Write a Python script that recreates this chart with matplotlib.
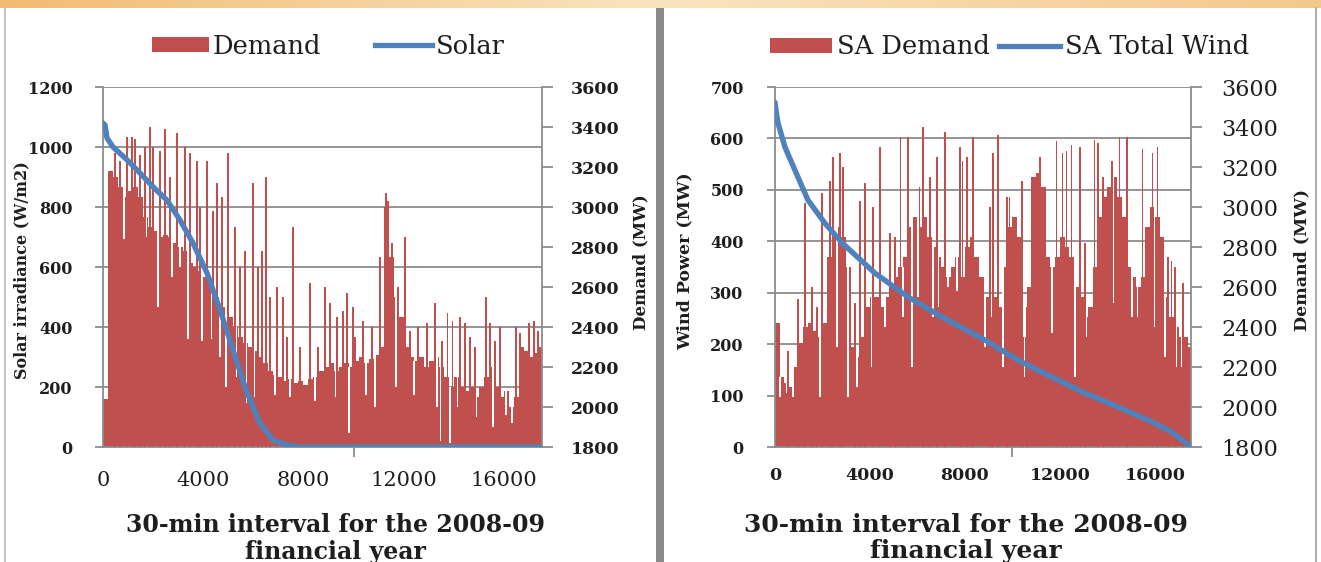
import numpy as np
import matplotlib
matplotlib.use('Agg')
import matplotlib.pyplot as plt
from matplotlib.patches import Rectangle, Patch
from matplotlib.lines import Line2D

# ---------------- data ----------------
x_ticks = [0, 4000, 8000, 12000, 16000]
n_intervals = 17520
body_step = 200

# ---- left panel: demand (MW) read as a solid body + thin peaks + thin dips
left_body = [
    2040, 3180, 3150, 3100, 3050, 3080, 3100, 3050, 2950, 2900,
    2880, 2850, 2860, 2850, 2820, 2800, 2780, 2720, 2700, 2680,
    2650, 2620, 2580, 2550, 2500, 2450, 2400, 2350, 2320, 2300,
    2280, 2250, 2220, 2180, 2160, 2150, 2130, 2140, 2120, 2130,
    2110, 2140, 2150, 2180, 2200, 2220, 2180, 2200, 2220, 2200,
    2230, 2250, 2220, 2240, 2260, 2300, 3000, 2750, 2550, 2450,
    2300, 2250, 2230, 2250, 2200, 2230, 2250, 2200, 2150, 2100,
    2150, 2100, 2080, 2100, 2050, 2100, 2150, 2200, 2100, 2050,
    2080, 2000, 2050, 2300, 2280, 2250, 2270, 2300,
]
left_peak_x = [480, 680, 960, 1160, 1280, 1480, 1675, 1875, 2000, 2275,
               2475, 2670, 2950, 3270, 3470, 3750, 3870, 4150, 4390, 4550,
               4750, 4990, 5270, 5470, 5670, 5985, 6190, 6340, 6500, 6660,
               6940, 7180, 7340, 7580, 7860, 8260, 8580, 8860, 9060, 9340,
               9580, 9740, 9975, 10050, 10370, 10730, 11050, 11290, 11370, 11530,
               11770, 12050, 12250, 12570, 12930, 13250, 13530, 13760, 13960, 14240,
               14440, 14640, 14840, 15280, 15440, 15640, 15840, 16480, 16640, 17000,
               17200, 17360]
left_peak_top = [3270, 3230, 3350, 3350, 3340, 3260, 3300, 3400, 3300, 3280,
                 3390, 3150, 3370, 3300, 3270, 3230, 3000, 3230, 2980, 3120,
                 3050, 3270, 2900, 2700, 2780, 3120, 2700, 2780, 3150, 2550,
                 2600, 2550, 2350, 2900, 2300, 2620, 2300, 2600, 2520, 2450,
                 2480, 2570, 2500, 2350, 2430, 2400, 2750, 3070, 3030, 2820,
                 2600, 2850, 2380, 2400, 2420, 2520, 2330, 2470, 2430, 2450,
                 2420, 2350, 2300, 2550, 2420, 2330, 2400, 2400, 2370, 2420,
                 2430, 2380]
left_dip_x = [680, 840, 1720, 2190, 2750, 3070, 3390, 3950, 4350, 4670,
              4910, 5310, 5710, 6030, 6340, 6860, 7460, 8460, 9300, 9820,
              10490, 10850, 11690, 12410, 13330, 13490, 13850, 14160, 14880, 15560,
              16080, 16320, 16640]
left_dip_bottom = [2780, 2840, 2850, 2500, 2650, 2700, 2340, 2330, 2340, 2250,
                   2100, 2150, 2020, 2050, 2030, 2060, 2050, 2030, 2050, 1870,
                   2060, 2000, 2100, 2060, 2000, 1830, 1820, 2000, 1950, 1900,
                   1960, 1920, 2000]

solar_x = [0, 80, 160, 400, 960, 1480, 2000, 2550, 3070, 3590, 4150, 4670,
           5190, 5750, 6260, 6780, 7340, 7860, 17520]
solar_y = [1080, 1073, 1030, 1000, 957, 913, 867, 823, 757, 680, 580, 457,
           323, 180, 80, 23, 7, 0, 0]

# ---- right panel
right_body = [
    2420, 2150, 2120, 2100, 2200, 2320, 2400, 2420, 2380, 2350,
    2420, 2750, 2850, 2900, 2850, 2700, 2300, 2250, 2350, 2500,
    2550, 2550, 2500, 2550, 2600, 2650, 2700, 2750, 2900, 2950,
    2900, 2950, 2850, 2800, 2750, 2700, 2650, 2700, 2750, 2650,
    2800, 2850, 2750, 2650, 2550, 2450, 2550, 2500, 2700, 2900,
    2950, 2850, 2350, 2600, 3150, 3170, 3100, 2750, 2700, 2750,
    2850, 2800, 2750, 2600, 2550, 2450, 2500, 2700, 2950, 3050,
    3100, 3150, 3050, 2950, 2700, 2650, 2600, 2650, 2900, 3000,
    2950, 2850, 2550, 2450, 2400, 2350, 2350, 2300,
]
right_peak_x = [550, 970, 1260, 1560, 1770, 1980, 2315, 2440, 2735, 2860,
                3370, 3580, 3790, 4130, 4420, 4840, 5050, 5300, 5600, 6100,
                6230, 6530, 6820, 7160, 7790, 7910, 8080, 8340, 9050, 9180,
                9390, 9770, 9890, 10400, 10610, 11160, 11870, 12120, 12290, 12500,
                12840, 13050, 13470, 13600, 13810, 14190, 14520, 14820, 15490, 15910,
                16120, 16550, 16710, 16840, 17180]
right_peak_top = [2280, 2540, 3020, 2600, 2500, 3070, 3130, 3250, 3270, 3200,
                  2520, 3030, 3120, 3000, 3300, 2870, 2850, 3350, 3350, 3100,
                  3400, 3150, 3250, 3375, 3300, 3230, 3250, 3350, 3000, 3270,
                  3360, 3050, 3050, 3130, 2500, 3250, 3330, 3270, 3280, 3310,
                  3300, 2820, 3335, 3320, 3150, 3230, 3350, 3350, 3290, 3270,
                  3300, 2750, 2730, 2700, 2620]
right_dip_x = [210, 505, 760, 1770, 1900, 2610, 3070, 3450, 4080, 4630,
               5390, 5770, 6020, 6650, 6860, 7280, 7660, 8840, 9600, 10520,
               11660, 12630, 13130, 13350, 14230, 15030, 15280, 15990, 16420, 16920,
               17130]
right_dip_bottom = [2050, 2070, 2050, 2070, 2050, 2300, 2050, 2100, 2200, 2400,
                    2450, 2200, 2550, 2450, 2500, 2600, 2580, 2300, 2200, 2150,
                    2370, 2150, 2350, 2500, 2520, 2450, 2450, 2400, 2250, 2200,
                    2200]

wind_x = [0, 40, 126, 420, 842, 1389, 2105, 2821, 4210, 5600, 7030, 8840,
          10230, 11660, 13050, 14440, 15870, 16710, 17520]
wind_y = [670, 655, 630, 583, 538, 480, 435, 397, 338, 292, 253, 208,
          169, 136, 105, 78, 49, 29, 0]

left_ticks_solar = [0, 200, 400, 600, 800, 1000, 1200]
left_ticks_wind = [0, 100, 200, 300, 400, 500, 600, 700]
demand_ticks = [1800, 2000, 2200, 2400, 2600, 2800, 3000, 3200, 3400, 3600]

# ---------------- style ----------------
W, H = 1321, 562
plt.rcParams['font.family'] = ['DejaVu Serif']
RED = '#C0504D'
BLUE = '#4F81BD'
GRID = '#8C8C8C'
TXT = '#1E1E1E'
PT = 72 / 100.0  # points per pixel

fig = plt.figure(figsize=(W / 100, H / 100), dpi=100)

# background decorations
bg = fig.add_axes([0, 0, 1, 1], zorder=-10)
bg.set_xlim(0, W)
bg.set_ylim(H, 0)
bg.axis('off')
grad = np.zeros((1, 300, 3))
c1 = np.array([240, 188, 115]) / 255
c2 = np.array([250, 228, 190]) / 255
c3 = np.array([244, 200, 140]) / 255
t = np.linspace(0, 1, 300)
for k in range(300):
    if t[k] < 0.5:
        grad[0, k] = c1 + (c2 - c1) * (t[k] / 0.5)
    else:
        grad[0, k] = c2 + (c3 - c2) * ((t[k] - 0.5) / 0.5)
bg.imshow(grad, extent=[0, W, 8, 0], aspect='auto')
bg.add_patch(Rectangle((656, 8), 8, H, color='#8A8A8A', lw=0))
bg.plot([5, 5], [8, H], color='#C4C4C4', lw=1.5)
bg.plot([1316, 1316], [8, H], color='#B0B0B0', lw=1.5)


def px_axes(x0, x1, y0, y1):
    return [x0 / W, 1 - y1 / H, (x1 - x0) / W, (y1 - y0) / H]


def panel(x0, x1, left_max, left_ticks, body, peak_x, peak_top, dip_x, dip_bottom,
          lx, ly, lpad, lsize, lweight, rpad, rsize, rweight, xpad, xsize, xweight):
    ax = fig.add_axes(px_axes(x0, x1, 87, 447))
    ax2 = ax.twinx()
    body = np.array(body, dtype=float)
    body_x = np.arange(len(body)) * body_step
    ax2.bar(body_x, body - 1800, bottom=1800, width=body_step, align='edge',
            color=RED, linewidth=0, zorder=2)
    # thin dips (white gaps inside the body)
    dx = np.array(dip_x, dtype=float)
    db = np.array(dip_bottom, dtype=float)
    dtop = body[(dx // body_step).astype(int)]
    ax2.bar(dx, np.maximum(dtop - db, 0), bottom=db, width=55, color='white',
            linewidth=0, zorder=3)
    # thin peaks
    pt = np.array(peak_top, dtype=float)
    ax2.bar(peak_x, pt - 1800, bottom=1800, width=55, color=RED,
            linewidth=0, zorder=4)
    ax2.plot(lx, ly, transform=ax.transData, color=BLUE, lw=3.9,
             solid_capstyle='round', solid_joinstyle='round', zorder=5)
    ax.set_xlim(0, n_intervals)
    ax.set_ylim(0, left_max)
    ax2.set_ylim(1800, 3600)
    ax.set_yticks(left_ticks)
    ax2.set_yticks(demand_ticks)
    ax.yaxis.grid(True, color=GRID, lw=1.3)
    ax.set_axisbelow(True)
    for s in ax.spines.values():
        s.set_visible(False)
    ax2.spines['top'].set_visible(False)
    for k in ['left', 'right', 'bottom']:
        ax2.spines[k].set_color(GRID)
        ax2.spines[k].set_linewidth(1.3)
    ax.tick_params(axis='y', direction='out', length=6, width=1.3, color=GRID,
                   pad=lpad, labelsize=lsize, labelcolor=TXT)
    ax2.tick_params(axis='y', direction='out', length=8, width=1.3, color=GRID,
                    pad=rpad, labelsize=rsize, labelcolor=TXT)
    ax.set_xticks(x_ticks)
    ax.set_xticklabels([str(v) for v in x_ticks])
    ax.set_xticks([0, 10000], minor=True)
    ax.tick_params(axis='x', which='major', length=0, pad=xpad,
                   labelsize=xsize, labelcolor=TXT)
    ax.tick_params(axis='x', which='minor', length=7, width=1.3, color=GRID)
    for lab in ax.get_yticklabels():
        lab.set_fontweight(lweight)
    for lab in ax2.get_yticklabels():
        lab.set_fontweight(rweight)
    for lab in ax.get_xticklabels():
        lab.set_fontweight(xweight)
    return ax, ax2


panel(103, 542, 1200, left_ticks_solar, left_body, left_peak_x, left_peak_top,
      left_dip_x, left_dip_bottom, solar_x, solar_y,
      lpad=22 * PT, lsize=11.5, lweight='bold',
      rpad=18 * PT, rsize=12.5, rweight='bold',
      xpad=24 * PT, xsize=15, xweight='normal')
panel(775, 1191, 700, left_ticks_wind, right_body, right_peak_x, right_peak_top,
      right_dip_x, right_dip_bottom, wind_x, wind_y,
      lpad=23 * PT, lsize=11.5, lweight='bold',
      rpad=19 * PT, rsize=16, rweight='normal',
      xpad=20 * PT, xsize=12.5, xweight='bold')


def ftext(x, y, s, **kw):
    fig.text(x / W, 1 - y / H, s, color=TXT, **kw)


# axis titles
ftext(22, 270, 'Solar irradiance (W/m2)', rotation=90, ha='center', va='center',
      fontsize=11.5, fontweight='bold')
ftext(641, 262, 'Demand (MW)', rotation=90, ha='center', va='center',
      fontsize=12, fontweight='bold')
ftext(685, 261, 'Wind Power (MW)', rotation=90, ha='center', va='center',
      fontsize=12.5, fontweight='bold')
ftext(1302, 260, 'Demand (MW)', rotation=90, ha='center', va='center',
      fontsize=12.5, fontweight='bold')

xlabel = '30-min interval for the 2008-09\nfinancial year'
ftext(335, 513, xlabel, ha='center', va='top', fontsize=17, fontweight='bold',
      linespacing=1.15)
ftext(966, 513, xlabel, ha='center', va='top', fontsize=18, fontweight='bold',
      linespacing=1.12)


# legends
def legend(x, y, labels, fs, hl, tp, cs):
    handles = [Patch(facecolor=RED, edgecolor='none'),
               Line2D([0], [0], color=BLUE, lw=3.8)]
    lg = fig.legend(handles, labels, loc='center left',
                    bbox_to_anchor=(x / W, 1 - y / H), ncol=2, frameon=False,
                    fontsize=fs, handlelength=hl, handleheight=0.5,
                    handletextpad=tp, columnspacing=cs, borderpad=0,
                    borderaxespad=0)
    for tx in lg.get_texts():
        tx.set_color(TXT)


legend(152, 46, ['Demand', 'Solar'], 18.5, 2.2, 0.17, 2.1)
legend(770, 47, ['SA Demand', 'SA Total Wind'], 18.5, 2.4, 0.2, 0.35)

fig.savefig('out.png', dpi=100)
